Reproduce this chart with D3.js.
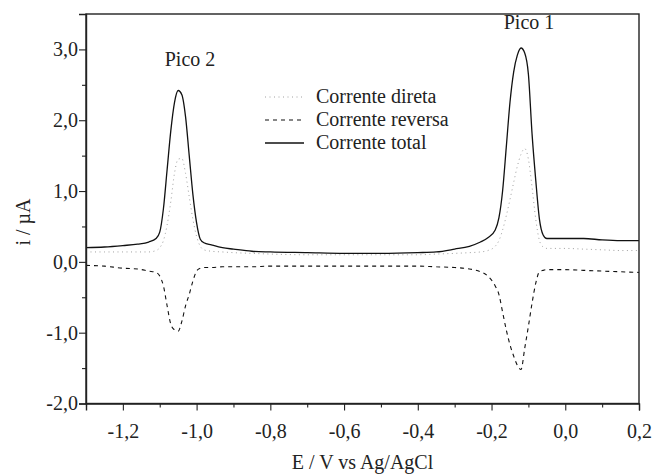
<!DOCTYPE html>
<html>
<head>
<meta charset="utf-8">
<script src="https://cdn.jsdelivr.net/npm/d3@7"></script>
<style>
  html, body { margin: 0; padding: 0; background: #fff; }
  svg { display: block; }
  svg text { fill: #222; }
</style>
</head>
<body>
<svg id="chart" width="657" height="476"></svg>
<script>
// Potential (V vs Ag/AgCl)
const potential = [
  -1.30, -1.25, -1.20, -1.16, -1.13, -1.11, -1.10, -1.09, -1.08, -1.07,
  -1.06, -1.05, -1.04, -1.03, -1.02, -1.01, -1.00, -0.99, -0.98, -0.96,
  -0.93, -0.90, -0.85, -0.80, -0.70, -0.60, -0.50, -0.40, -0.35, -0.30,
  -0.26, -0.23, -0.21, -0.19, -0.18, -0.17, -0.16, -0.15, -0.14, -0.13,
  -0.12, -0.11, -0.10, -0.09, -0.08, -0.07, -0.06, -0.05, -0.03, 0.00,
  0.05, 0.10, 0.15, 0.20
];
// Forward current (µA)
const correnteDireta = [
  0.14, 0.14, 0.14, 0.14, 0.14, 0.16, 0.20, 0.30, 0.52, 0.85,
  1.25, 1.45, 1.46, 1.25, 0.92, 0.60, 0.36, 0.22, 0.17, 0.15,
  0.14, 0.13, 0.12, 0.11, 0.10, 0.10, 0.10, 0.10, 0.11, 0.12,
  0.13, 0.14, 0.16, 0.22, 0.30, 0.45, 0.65, 0.88, 1.12, 1.35,
  1.52, 1.60, 1.45, 1.05, 0.60, 0.30, 0.21, 0.19, 0.19, 0.19,
  0.18, 0.17, 0.16, 0.16
];
// Reverse current (µA)
const correnteReversa = [
  -0.05, -0.06, -0.09, -0.10, -0.13, -0.15, -0.20, -0.34, -0.62, -0.88,
  -0.96, -0.98, -0.84, -0.62, -0.46, -0.27, -0.13, -0.09, -0.08, -0.08,
  -0.07, -0.07, -0.07, -0.06, -0.06, -0.06, -0.06, -0.06, -0.07, -0.08,
  -0.10, -0.14, -0.20, -0.34, -0.46, -0.71, -0.96, -1.17, -1.33, -1.46,
  -1.52, -1.22, -0.91, -0.58, -0.30, -0.14, -0.12, -0.11, -0.11, -0.11,
  -0.12, -0.13, -0.14, -0.15
];
// Net current (µA)
const correnteTotal = [
  0.20, 0.21, 0.23, 0.25, 0.28, 0.33, 0.42, 0.75, 1.30, 1.85,
  2.25, 2.42, 2.36, 2.05, 1.50, 0.95, 0.55, 0.32, 0.27, 0.24,
  0.20, 0.18, 0.15, 0.14, 0.13, 0.12, 0.12, 0.13, 0.14, 0.18,
  0.22, 0.28, 0.34, 0.45, 0.62, 1.00, 1.62, 2.25, 2.68, 2.92,
  3.02, 2.95, 2.65, 1.80, 1.15, 0.60, 0.38, 0.33, 0.33, 0.33,
  0.33, 0.31, 0.30, 0.30
];

const xTicks = [-1.2, -1.0, -0.8, -0.6, -0.4, -0.2, 0.0, 0.2];
const xMinorTicks = [-1.3, -1.1, -0.9, -0.7, -0.5, -0.3, -0.1, 0.1];
const yTicks = [-2.0, -1.0, 0.0, 1.0, 2.0, 3.0];
const yMinorTicks = [-1.5, -0.5, 0.5, 1.5, 2.5];

const series = [
  { name: "Corrente direta", values: correnteDireta, stroke: "#a0a0a0", width: 1, dash: "1,3.5" },
  { name: "Corrente reversa", values: correnteReversa, stroke: "#111", width: 1.1, dash: "4,4" },
  { name: "Corrente total", values: correnteTotal, stroke: "#111", width: 1.3, dash: null }
];

const margin = { left: 86, right: 18, top: 14, bottom: 72.5 };
const W = 657, H = 476;
const SERIF = "'Liberation Serif', 'Times New Roman', Times, serif";
const FS = 20;
const svg = d3.select("#chart");

const x = d3.scaleLinear().domain([-1.3, 0.2]).range([margin.left, W - margin.right]);
const y = d3.scaleLinear().domain([-2.0, 3.5]).range([H - margin.bottom, margin.top]);

const fmt = d => d.toFixed(1).replace(".", ",").replace("-0,0", "0,0");

// curves
const line = d3.line()
  .x((d, i) => x(potential[i]))
  .y(d => y(d))
  .curve(d3.curveMonotoneX);

const plot = svg.append("g");
series.forEach(s => {
  plot.append("path")
    .datum(s.values)
    .attr("d", line)
    .attr("fill", "none")
    .attr("stroke", s.stroke)
    .attr("stroke-width", s.width)
    .attr("stroke-dasharray", s.dash)
    .attr("stroke-linejoin", "round");
});

// frame
const x0 = x.range()[0], x1 = x.range()[1], y0 = y.range()[0], y1 = y.range()[1];
svg.append("rect")
  .attr("x", x0).attr("y", y1)
  .attr("width", x1 - x0).attr("height", y0 - y1)
  .attr("fill", "none").attr("stroke", "#222").attr("stroke-width", 1.4);

// x axis
svg.append("g").attr("transform", `translate(0,${y0})`)
  .call(d3.axisBottom(x).tickValues(xTicks).tickFormat(fmt).tickSize(7).tickPadding(13));
svg.append("g").attr("transform", `translate(0,${y0})`)
  .call(d3.axisBottom(x).tickValues(xMinorTicks).tickFormat("").tickSize(4))
  .call(g => g.select(".domain").remove());

// y axis
svg.append("g").attr("transform", `translate(${x0},0)`)
  .call(d3.axisLeft(y).tickValues(yTicks).tickFormat(fmt).tickSize(7).tickPadding(1));
svg.append("g").attr("transform", `translate(${x0},0)`)
  .call(d3.axisLeft(y).tickValues(yMinorTicks).tickFormat("").tickSize(4))
  .call(g => g.select(".domain").remove());

svg.selectAll(".domain").attr("stroke", "#222").attr("stroke-width", 1.4);
svg.selectAll(".tick line").attr("stroke", "#222").attr("stroke-width", 1.1);
svg.selectAll(".tick text")
  .attr("font-family", SERIF)
  .attr("font-size", FS)
  .attr("fill", "#222");

// axis titles
svg.append("text")
  .attr("x", (x0 + x1) / 2).attr("y", 469)
  .attr("text-anchor", "middle")
  .attr("font-family", SERIF)
  .attr("font-size", FS)
  .text("E / V vs Ag/AgCl");

svg.append("text")
  .attr("transform", `translate(30,${222}) rotate(-90)`)
  .attr("text-anchor", "middle")
  .attr("font-family", SERIF)
  .attr("font-size", FS)
  .text("i / µA");

// peak labels
svg.append("text").attr("x", 190).attr("y", 66).attr("text-anchor", "middle")
  .attr("font-family", SERIF).attr("font-size", FS).text("Pico 2");
svg.append("text").attr("x", 529).attr("y", 29).attr("text-anchor", "middle")
  .attr("font-family", SERIF).attr("font-size", FS).text("Pico 1");

// legend
const legend = svg.append("g");
series.forEach((s, i) => {
  const ly = 97 + i * 23;
  legend.append("line")
    .attr("x1", 265).attr("x2", 304).attr("y1", ly).attr("y2", ly)
    .attr("stroke", s.stroke).attr("stroke-width", s.width)
    .attr("stroke-dasharray", s.dash);
  legend.append("text")
    .attr("x", 316).attr("y", ly + 6)
    .attr("font-family", SERIF)
    .attr("font-size", FS)
    .text(s.name);
});
</script>
</body>
</html>
